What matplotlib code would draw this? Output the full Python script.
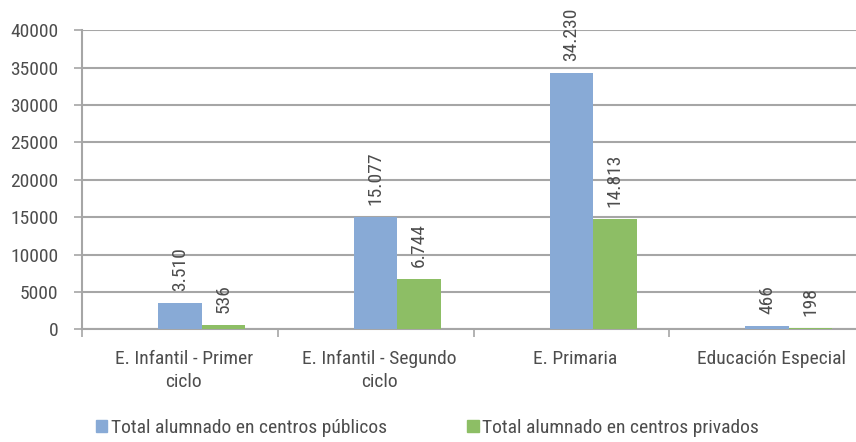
import matplotlib
matplotlib.use('Agg')
import matplotlib.pyplot as plt
import matplotlib.font_manager as fm
import numpy as np
from matplotlib.patches import Patch

categorias = ['E. Infantil - Primer\nciclo', 'E. Infantil - Segundo\nciclo',
              'E. Primaria', 'Educación Especial']
publicos = [3510, 15077, 34230, 466]
privados = [536, 6744, 14813, 198]
series = ['Total alumnado en centros públicos', 'Total alumnado en centros privados']

azul = '#88AAD6'
verde = '#8DBE65'
gris = '#A6A6A6'
texto = '#4D4D4D'

# look for a narrow font, the reference uses a condensed face
nombres = {f.name for f in fm.fontManager.ttflist}
estrecha = [f for f in fm.fontManager.ttflist
            if 'condensed' in f.fname.lower() or 'narrow' in f.fname.lower()]
stretch = 'normal'
if 'Roboto Condensed' in nombres:
    familia = 'Roboto Condensed'
elif 'Liberation Sans Narrow' in nombres:
    familia = 'Liberation Sans Narrow'
elif estrecha:
    familia = estrecha[0].name
    stretch = 'condensed'
else:
    familia = 'Roboto'
plt.rcParams['font.family'] = [familia, 'DejaVu Sans']
plt.rcParams['font.stretch'] = stretch

fig = plt.figure(figsize=(8.56, 4.42), dpi=100)
# right edge of plot area lies just beyond the image, as in the reference
ax = fig.add_axes([82/856, 1 - 329.3/442, (865 - 82)/856, (329.3 - 30.3)/442])

x = np.arange(len(categorias))
w = 0.222
ax.bar(x, publicos, w, color=azul, zorder=3)
ax.bar(x + w, privados, w, color=verde, zorder=3)

def fmt(v):
    return f'{v:,}'.replace(',', '.')

fs = 14
for i in range(len(categorias)):
    ax.annotate(fmt(publicos[i]), (x[i], publicos[i]), xytext=(0, 12),
                textcoords='offset pixels', rotation=90, ha='center', va='bottom',
                fontsize=fs, color=texto)
    ax.annotate(fmt(privados[i]), (x[i] + w, privados[i]), xytext=(0, 12),
                textcoords='offset pixels', rotation=90, ha='center', va='bottom',
                fontsize=fs, color=texto)

ax.set_xlim(-0.5, len(categorias) - 0.5)
ax.set_ylim(0, 40000)
ax.set_yticks(np.arange(0, 40001, 5000))
ax.yaxis.grid(True, color=gris, linewidth=1.5, zorder=0)
ax.tick_params(axis='y', length=6, width=1.2, color=gris, labelsize=fs,
               labelcolor=texto, pad=11)

ax.set_xticks(x + 0.02)
ax.set_xticklabels(categorias, fontsize=fs, color=texto, va='top', linespacing=1.35)
ax.tick_params(axis='x', length=0, pad=15)
ax.set_xticks(np.arange(-0.5, len(categorias)), minor=True)
ax.tick_params(axis='x', which='minor', length=6, width=1.2, color=gris)

for s in ['top', 'right']:
    ax.spines[s].set_visible(False)
ax.spines['left'].set_color(gris)
ax.spines['left'].set_linewidth(1.5)
ax.spines['bottom'].set_color(gris)
ax.spines['bottom'].set_linewidth(1.5)

handles = [Patch(color=azul), Patch(color=verde)]
fig.legend(handles, series, loc='center left', bbox_to_anchor=(78/856, 1 - 428/442),
           ncol=2, frameon=False, fontsize=fs, handlelength=0.6, handleheight=0.6,
           handletextpad=0.2, columnspacing=4.1, labelcolor=texto)

fig.savefig('out.png', dpi=100)
